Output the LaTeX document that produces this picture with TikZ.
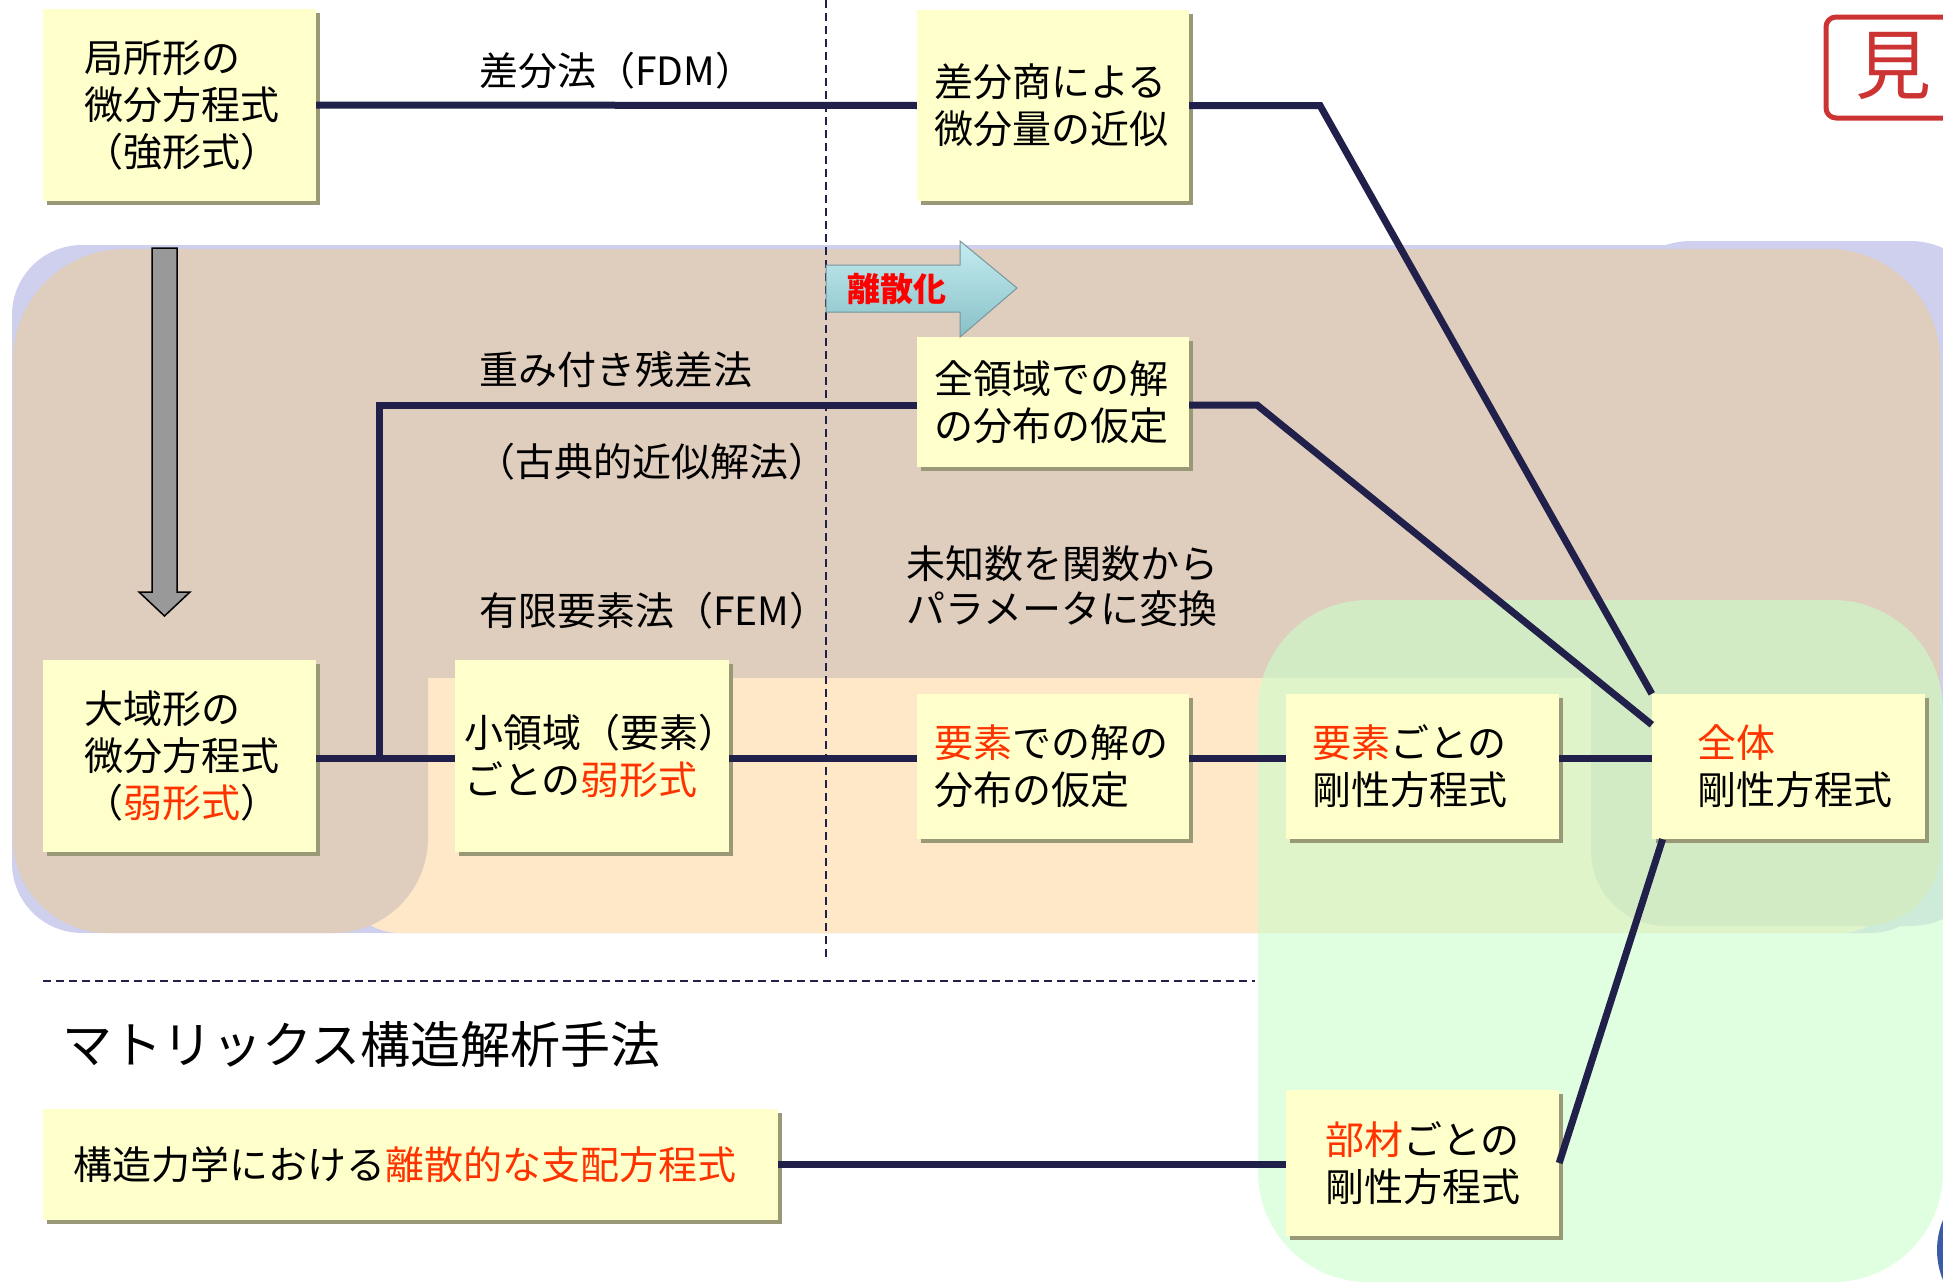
\documentclass[tikz,border=0pt]{standalone}
\usepackage{fontspec}
\setmainfont{Noto Sans CJK JP}
\usetikzlibrary{shadows}
\definecolor{lav}{RGB}{207,207,238}
\definecolor{tanc}{RGB}{223,205,189}
\definecolor{peach}{RGB}{255,232,200}
\definecolor{grn}{RGB}{203,255,203}
\definecolor{boxfill}{RGB}{255,255,204}
\definecolor{shadowc}{RGB}{153,153,119}
\definecolor{navy}{RGB}{32,32,74}
\definecolor{redt}{RGB}{255,51,0}
\definecolor{framered}{RGB}{204,51,51}
\definecolor{bluec}{RGB}{58,92,168}
\definecolor{arrtop}{RGB}{196,236,240}
\definecolor{arrbot}{RGB}{136,192,200}
\definecolor{arrline}{RGB}{120,150,155}
\definecolor{graya}{RGB}{153,153,153}
\newcommand\bodyjp{\fontsize{39}{47}\selectfont}
\tikzset{
  box/.style={fill=boxfill, drop shadow={shadow xshift=4pt, shadow yshift=-4pt, fill=shadowc, opacity=1},
    align=left, inner ysep=0pt, font=\bodyjp},
  conn/.style={draw=navy, line width=7pt},
  dashl/.style={draw=navy, line width=2pt, dash pattern=on 8pt off 5pt},
  lbl/.style={font=\bodyjp, inner sep=0pt, anchor=west},
}
\begin{document}
\begin{tikzpicture}[x=1pt,y=-1pt]
\useasboundingbox (0,0) rectangle (1943,1282);
\clip (0,0) rectangle (1943,1282);
% background regions
\fill[lav, rounded corners=70pt] (12,245) rectangle (1940,933);
\fill[lav, rounded corners=80pt] (1611,241) rectangle (1990,926);
\fill[tanc, rounded corners=112pt] (13,249) rectangle (1940,720);
\fill[peach, rounded corners=60pt] (340,678) rectangle (1900,933);
\fill[tanc, rounded corners=95pt] (13,400) rectangle (428,933);
\fill[tanc, rounded corners=75pt] (1591,400) rectangle (1940,926);
\fill[grn, fill opacity=0.6, rounded corners=110pt] (1258,600) rectangle (1943,1282);
\fill[bluec] (2015,1250) circle (78pt);
% title frame
\draw[framered, line width=5pt, rounded corners=10pt] (1826,17) rectangle (2010,118);
\node[text=framered, font=\fontsize{76}{76}\selectfont, inner sep=0pt] (title) at (1893,66) {見};
% dashed separators
\coordinate (dv1) at (826,0);
\coordinate (dv2) at (826,958);
\coordinate (dh1) at (43,981);
\coordinate (dh2) at (1255,981);
\draw[dashl] (dv1) -- (dv2);
\draw[dashl] (dh1) -- (dh2);
% gray arrow
\filldraw[fill=graya, draw=black, line width=1.5pt] (152,248) -- (177,248) -- (177,592) -- (190,592) -- (164.5,616) -- (139,592) -- (152,592) -- cycle;
% boxes
\node[box, minimum width=273pt, minimum height=192pt, text width=191pt, inner xsep=41pt] (b1) at (179.5,105) {局所形の\\微分方程式\\（強形式）};
\node[box, minimum width=272pt, minimum height=191pt, text width=238pt, inner xsep=17pt] (b2) at (1053,105.5) {差分商による\\微分量の近似};
\node[box, minimum width=272pt, minimum height=130pt, text width=238pt, inner xsep=17pt] (b3) at (1053,402) {全領域での解\\の分布の仮定};
\node[box, minimum width=273pt, minimum height=192pt, text width=191pt, inner xsep=41pt] (b4) at (179.5,756) {大域形の\\微分方程式\\（\textcolor{redt}{弱形式}）};
\node[box, minimum width=274pt, minimum height=192pt, text width=256pt, inner xsep=9pt] (b5) at (592,756) {小領域（要素）\\ごとの\textcolor{redt}{弱形式}};
\node[box, minimum width=272pt, minimum height=145pt, text width=238pt, inner xsep=17pt] (b6) at (1053,766.5) {\textcolor{redt}{要素}での解の\\分布の仮定};
\node[box, minimum width=273pt, minimum height=145pt, text width=221pt, inner xsep=26pt] (b7) at (1422.5,766.5) {\textcolor{redt}{要素}ごとの\\剛性方程式};
\node[box, minimum width=273pt, minimum height=145pt, text width=183pt, inner xsep=45pt] (b8) at (1788.5,766.5) {\textcolor{redt}{全体}\\剛性方程式};
\node[box, minimum width=735pt, minimum height=111pt, text width=675pt, inner xsep=30pt] (b9) at (410.5,1164.5) {構造力学における\textcolor{redt}{離散的な支配方程式}};
\node[box, minimum width=273pt, minimum height=146pt, text width=195pt, inner xsep=39pt] (b10) at (1422.5,1163) {\textcolor{redt}{部材}ごとの\\剛性方程式};
% connectors
\coordinate (k1) at (1320,105.5);
\coordinate (k2) at (1257,405);
\coordinate (j1) at (379,758);
\draw[conn] (b1.east) -- (b2.west);
\draw[conn] (b2.east) -- (k1) -- (b8.north west);
\draw[conn] (b3.east |- k2) -- (k2) -- (b8.163);
\draw[conn] (b4.east |- j1) -- (b5.west |- j1);
\draw[conn] (j1) |- (b3.west |- k2);
\draw[conn] (b5.east |- j1) -- (b6.west |- j1);
\draw[conn] (b6.east |- j1) -- (b7.west |- j1);
\draw[conn] (b7.east |- j1) -- (b8.west |- j1);
\draw[conn] (b9.east) -- (b10.west |- b9.east);
\draw[conn] (b10.east) -- (b8.210);
% discretization arrow
\shade[top color=arrtop, bottom color=arrbot, draw=arrline, line width=1pt] (826,265) -- (960,265) -- (960,241) -- (1017,288) -- (960,337) -- (960,312) -- (826,312) -- cycle;
\node[font=\fontsize{33}{33}\selectfont\bfseries, text=red, inner sep=0pt] (disc) at (897,289) {離散化};
% labels
\node[lbl] (l1) at (479,71) {差分法（FDM）};
\node[lbl] (l2) at (479,369) {重み付き残差法};
\node[lbl] (l3) at (476,462) {（古典的近似解法）};
\node[lbl] (l4) at (479,611) {有限要素法（FEM）};
\node[lbl, align=left, font=\fontsize{39}{45}\selectfont] (l5) at (906,586) {未知数を関数から\\パラメータに変換};
\node[lbl, font=\fontsize{50}{50}\selectfont] (l6) at (62,1045) {マトリックス構造解析手法};
\end{tikzpicture}
\end{document}
